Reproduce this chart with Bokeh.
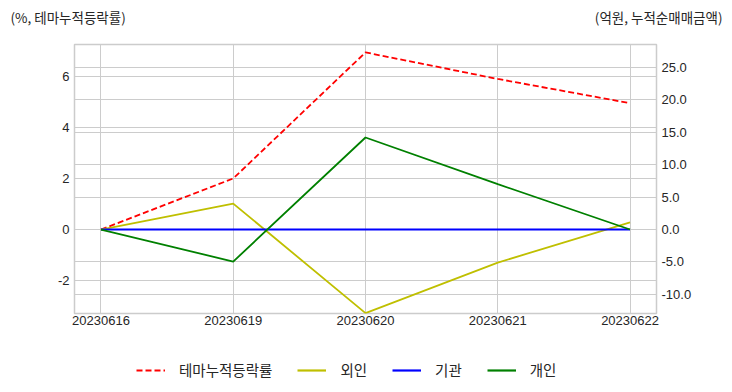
from bokeh.plotting import figure
from bokeh.layouts import column
from bokeh.models import (Range1d, LinearAxis, Grid, FixedTicker, Legend, LegendItem,
                          NumeralTickFormatter, SingleIntervalTicker)
from bokeh.core.properties import value
from bokeh.embed import file_html
from bokeh.resources import INLINE

dates = ["20230616", "20230619", "20230620", "20230621", "20230622"]
theme_pct = [0.0, 2.0, 6.94, 5.9, 4.95]
foreign = [0.0, 4.0, -12.9, -5.1, 1.1]
institution = [0.0, 0.0, 0.0, 0.0, 0.0]
individual = [0.0, -4.95, 14.2, 7.0, 0.0]
series_names = ["테마누적등락률", "외인", "기관", "개인"]
left_title = "(%, 테마누적등락률)"
right_title = "(억원, 누적순매매금액)"

xs = list(range(len(dates)))

FONT = "Liberation Sans"
KFONT = "Noto Sans CJK KR"
GRID = "#cccccc"
TXT = "#262626"
COLORS = ["#ff0000", "#bfbf00", "#0000ff", "#008000"]
W = 732


def bare(height):
    f = figure(width=W, height=height, output_backend="svg", toolbar_location=None,
               x_range=Range1d(0, W), y_range=Range1d(height, 0),
               x_axis_location=None, y_axis_location=None, frame_align=False,
               min_border_left=0, min_border_right=0, min_border_top=0, min_border_bottom=0)
    f.grid.visible = False
    f.outline_line_color = None
    return f


# ---- top titles strip ----
top = bare(42)
top.text(x=[10], y=[16], text=[left_title], text_font=value(KFONT), text_font_size="13.5px",
         text_color=TXT, text_baseline="middle", text_align="left")
top.text(x=[722], y=[16], text=[right_title], text_font=value(KFONT), text_font_size="13.5px",
         text_color=TXT, text_baseline="middle", text_align="right")

# ---- main chart ----
p = figure(width=W, height=306, output_backend="svg", toolbar_location=None,
           x_range=Range1d(-0.2, 4.2), y_range=Range1d(-3.29, 7.25), frame_align=False,
           min_border_left=74, min_border_right=76, min_border_top=2, min_border_bottom=35)
p.extra_y_ranges = {"right": Range1d(-12.96, 28.55)}

p.outline_line_color = GRID
p.outline_line_width = 1.5

p.xaxis.ticker = FixedTicker(ticks=xs)
p.xaxis.major_label_overrides = {i: d for i, d in enumerate(dates)}
p.yaxis.ticker = SingleIntervalTicker(interval=2)
p.yaxis.formatter = NumeralTickFormatter(format="0")
right_axis = LinearAxis(y_range_name="right", ticker=SingleIntervalTicker(interval=5),
                        formatter=NumeralTickFormatter(format="0.0"))
p.add_layout(right_axis, "right")

for ax in [p.xaxis[0], p.yaxis[0], right_axis]:
    ax.axis_line_color = None
    ax.major_tick_line_color = None
    ax.minor_tick_line_color = None
    ax.major_tick_out = 0
    ax.major_tick_in = 0
    ax.minor_tick_out = 0
    ax.major_label_text_font = FONT
    ax.major_label_text_font_size = "13px"
    ax.major_label_text_color = TXT
    ax.major_label_standoff = 5
p.xaxis.major_label_standoff = 2

p.xgrid.grid_line_color = GRID
p.ygrid.grid_line_color = GRID
p.xgrid.ticker = FixedTicker(ticks=xs)
p.ygrid.ticker = SingleIntervalTicker(interval=2)
rgrid = Grid(dimension=1, ticker=right_axis.ticker, y_range_name="right", grid_line_color=GRID)
p.add_layout(rgrid, "center")

p.line(xs, theme_pct, line_color=COLORS[0], line_width=1.8, line_dash="6 3")
p.line(xs, foreign, line_color=COLORS[1], line_width=1.8, y_range_name="right")
p.line(xs, institution, line_color=COLORS[2], line_width=1.8, y_range_name="right")
p.line(xs, individual, line_color=COLORS[3], line_width=1.8, y_range_name="right")

# ---- legend strip (proxy renderers kept off-canvas) ----
leg = bare(44)
items = []
for i, (name, col) in enumerate(zip(series_names, COLORS)):
    dash = "6 3" if i == 0 else "solid"
    r = leg.line(x=[-50, -40], y=[-50, -50], line_color=col, line_width=2.2, line_dash=dash)
    items.append(LegendItem(label=name, renderers=[r]))
legend = Legend(items=items, orientation="horizontal", location=(136, 12),
                label_text_font=KFONT, label_text_font_size="14.5px", label_text_color=TXT,
                glyph_width=29, glyph_height=20, label_standoff=14, spacing=25,
                border_line_color=None, background_fill_alpha=0, padding=5, margin=0)
leg.add_layout(legend, "center")

layout = column(top, p, leg, spacing=0)
open("out.html", "w").write(file_html(layout, INLINE))
